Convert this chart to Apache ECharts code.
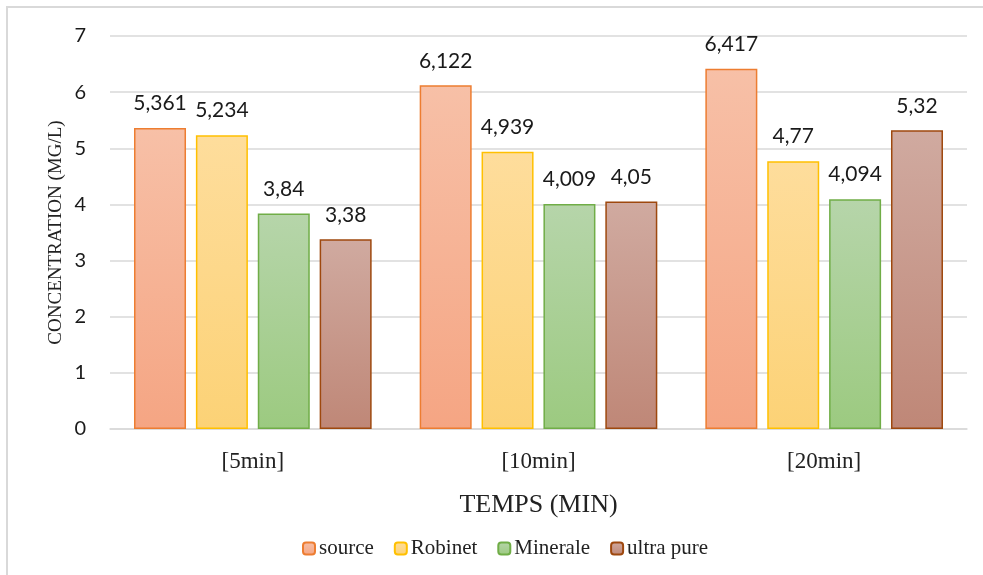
<!DOCTYPE html>
<html>
<head>
<meta charset="utf-8">
<script src="https://cdn.jsdelivr.net/npm/echarts@6/dist/echarts.min.js"></script>
<style>
  html, body { margin: 0; padding: 0; background: #fff; }
  #chart { width: 983px; height: 575px; }
</style>
</head>
<body>
<div id="chart"></div>
<script>
// Sampling times and measured concentrations (mg/L)
const categories = ['[5min]', '[10min]', '[20min]'];
const seriesNames = ['source', 'Robinet', 'Minerale', 'ultra pure'];
const sourceValues = [5.361, 6.122, 6.417];
const robinetValues = [5.234, 4.939, 4.77];
const mineraleValues = [3.84, 4.009, 4.094];
const ultraPureValues = [3.38, 4.05, 5.32];
const yTicks = [0, 1, 2, 3, 4, 5, 6, 7];

const palette = [
  { top: '#F7C0A7', bottom: '#F5A583', border: '#ED7D31' },
  { top: '#FEDD9C', bottom: '#FCD276', border: '#FFC000' },
  { top: '#B6D5AA', bottom: '#9CCA80', border: '#70AD47' },
  { top: '#D0AAA0', bottom: '#BF8777', border: '#9E480E' }
];

const allValues = [sourceValues, robinetValues, mineraleValues, ultraPureValues];

const fmt = v => String(v).replace('.', ',');
const serif = '"Liberation Serif", "Times New Roman", serif';
const sans = 'Lato, "Open Sans", sans-serif';

const series = seriesNames.map((name, i) => ({
  name,
  type: 'bar',
  data: allValues[i],
  barWidth: 52,
  barGap: '19%',
  itemStyle: {
    color: new echarts.graphic.LinearGradient(0, 0, 0, 1, [
      { offset: 0, color: palette[i].top },
      { offset: 1, color: palette[i].bottom }
    ]),
    borderColor: palette[i].border,
    borderWidth: 1.5
  },
  label: {
    show: true,
    position: 'top',
    distance: 14,
    formatter: p => fmt(p.value),
    fontFamily: sans,
    fontSize: 21,
    color: '#1a1a1a'
  }
}));

const chart = echarts.init(document.getElementById('chart'), null, { renderer: 'canvas' });
chart.setOption({
  animation: false,
  backgroundColor: '#ffffff',
  graphic: [{
    type: 'rect',
    shape: { x: 7, y: 7, width: 1000, height: 600 },
    style: { fill: 'none', stroke: '#D9D9D9', lineWidth: 2 },
    silent: true,
    z: -10
  }],
  grid: { left: 110, right: 16, top: 36, bottom: 146 },
  legend: {
    data: seriesNames,
    bottom: 11,
    left: 297,
    itemWidth: 12,
    itemHeight: 12,
    itemGap: 20,
    textStyle: {
      fontFamily: serif,
      fontSize: 21,
      color: '#222',
      padding: [0, 0, 0, -1]
    }
  },
  xAxis: {
    type: 'category',
    data: categories,
    name: 'TEMPS (MIN)',
    nameLocation: 'middle',
    nameGap: 63,
    nameMoveOverlap: false,
    nameTextStyle: {
      fontFamily: serif,
      fontSize: 26,
      color: '#222'
    },
    axisLine: { show: true, lineStyle: { color: '#D9D9D9', width: 1.5 } },
    axisTick: { show: false },
    axisLabel: {
      margin: 21,
      fontFamily: serif,
      fontSize: 23,
      color: '#222'
    }
  },
  yAxis: {
    type: 'value',
    min: yTicks[0],
    max: yTicks[yTicks.length - 1],
    interval: 1,
    name: 'CONCENTRATION (MG/L)',
    nameLocation: 'middle',
    nameGap: 44,
    nameMoveOverlap: false,
    nameTextStyle: {
      fontFamily: serif,
      fontSize: 19,
      color: '#222'
    },
    axisLine: { show: false },
    axisTick: { show: false },
    splitLine: { lineStyle: { color: '#D9D9D9', width: 1.5 } },
    axisLabel: {
      margin: 24,
      fontFamily: sans,
      fontSize: 20,
      color: '#1a1a1a'
    }
  },
  series
});
</script>
</body>
</html>
